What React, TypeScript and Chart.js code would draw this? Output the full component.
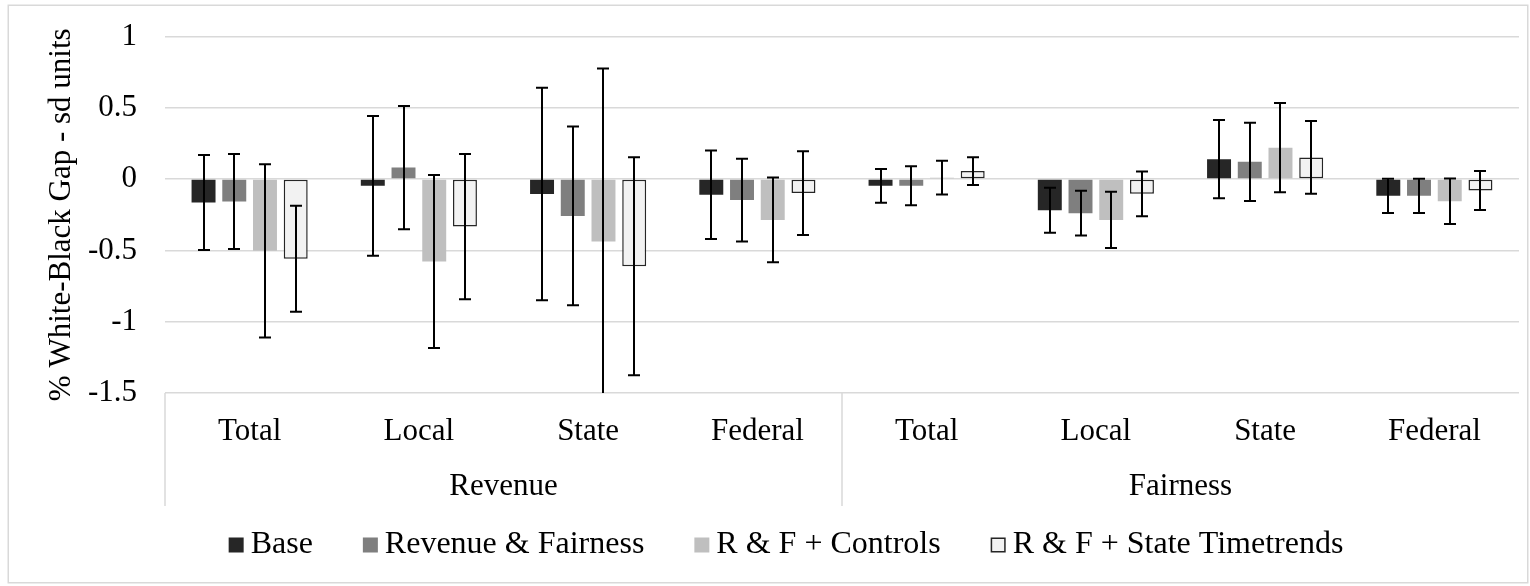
import React, { useEffect, useRef } from 'react';
import { Chart, registerables } from 'chart.js';

Chart.register(...registerables);

// ---------- data ----------
const categories = ['Total', 'Local', 'State', 'Federal', 'Total', 'Local', 'State', 'Federal'];
const groups = ['Revenue', 'Fairness'];
const groupSizes = [4, 4];
const seriesNames = ['Base', 'Revenue & Fairness', 'R & F + Controls', 'R & F + State Timetrends'];

const base = [-0.164, -0.047, -0.105, -0.11, -0.047, -0.218, 0.14, -0.117];
const baseErr = [0.333, 0.49, 0.745, 0.31, 0.118, 0.158, 0.275, 0.12];
const revFair = [-0.157, 0.081, -0.258, -0.147, -0.047, -0.239, 0.121, -0.117];
const revFairErr = [0.333, 0.432, 0.627, 0.29, 0.137, 0.157, 0.274, 0.12];
const controls = [-0.503, -0.578, -0.437, -0.286, 0.01, -0.286, 0.22, -0.155];
const controlsErr = [0.608, 0.607, 1.213, 0.297, 0.118, 0.197, 0.313, 0.16];
const timetrends = [-0.559, -0.333, -0.611, -0.098, 0.056, -0.103, 0.152, -0.08];
const timetrendsErr = [0.372, 0.509, 0.765, 0.294, 0.098, 0.157, 0.255, 0.137];

const yTicks = [1, 0.5, 0, -0.5, -1, -1.5];
const yTitle = '% White-Black Gap - sd units';

// ---------- style ----------
const FONT = '"Liberation Serif", "Times New Roman", serif';
const GRID = '#d9d9d9';

const errorBarPlugin = {
  id: 'errorBars',
  afterDatasetsDraw(chart: any) {
    const { ctx, chartArea, scales } = chart;
    const y = scales.y;
    ctx.save();
    ctx.beginPath();
    ctx.rect(chartArea.left, chartArea.top - 3, chartArea.right - chartArea.left, chartArea.bottom - chartArea.top + 3);
    ctx.clip();
    ctx.strokeStyle = '#000';
    ctx.lineWidth = 2;
    chart.data.datasets.forEach((ds: any, i: number) => {
      const meta = chart.getDatasetMeta(i);
      meta.data.forEach((bar: any, j: number) => {
        const v = ds.data[j];
        const e = ds.errors[j];
        const yt = y.getPixelForValue(v + e);
        const yb = y.getPixelForValue(v - e);
        const x = Math.round(bar.x);
        ctx.beginPath();
        ctx.moveTo(x, yt);
        ctx.lineTo(x, yb);
        ctx.moveTo(x - 6, yt);
        ctx.lineTo(x + 6, yt);
        ctx.moveTo(x - 6, yb);
        ctx.lineTo(x + 6, yb);
        ctx.stroke();
      });
    });
    ctx.restore();
  },
};

const decorPlugin = {
  id: 'decor',
  beforeDraw(chart: any) {
    const { ctx } = chart;
    ctx.save();
    ctx.fillStyle = '#fff';
    ctx.fillRect(0, 0, chart.width, chart.height);
    ctx.strokeStyle = GRID;
    ctx.lineWidth = 1.5;
    ctx.strokeRect(8.25, 5.25, 1519.5, 577.5);
    ctx.restore();
  },
  afterDraw(chart: any) {
    const { ctx, chartArea, scales } = chart;
    const x = scales.x;
    const axisBottom = 506;
    ctx.save();
    // group separators and group labels
    ctx.strokeStyle = GRID;
    ctx.lineWidth = 1.5;
    let idx = 0;
    const edges: number[] = [];
    groupSizes.forEach((n, g) => {
      const start = idx === 0 ? chartArea.left : (x.getPixelForValue(idx - 1) + x.getPixelForValue(idx)) / 2;
      const endIdx = idx + n;
      const end = endIdx >= categories.length ? chartArea.right : (x.getPixelForValue(endIdx - 1) + x.getPixelForValue(endIdx)) / 2;
      edges.push(start);
      ctx.fillStyle = '#000';
      ctx.font = `31px ${FONT}`;
      ctx.textAlign = 'center';
      ctx.textBaseline = 'middle';
      ctx.fillText(groups[g], (start + end) / 2, 487);
      idx = endIdx;
    });
    edges.forEach((ex) => {
      ctx.beginPath();
      ctx.moveTo(ex, chartArea.bottom);
      ctx.lineTo(ex, axisBottom);
      ctx.stroke();
    });

    // legend
    const datasets = chart.data.datasets;
    ctx.font = `32px ${FONT}`;
    const box = 15;
    const gapText = 7;
    const gapItem = 50;
    const widths = datasets.map((d: any) => ctx.measureText(d.label).width);
    const total = widths.reduce((a: number, w: number) => a + box + gapText + w, 0) + gapItem * (datasets.length - 1);
    let lx = 786 - total / 2;
    const ly = 545;
    datasets.forEach((d: any, i: number) => {
      ctx.fillStyle = d.backgroundColor;
      ctx.fillRect(lx, ly - box / 2, box, box);
      if (d.borderWidth) {
        ctx.strokeStyle = d.borderColor;
        ctx.lineWidth = 1.5;
        ctx.strokeRect(lx + 0.75, ly - box / 2 + 0.75, box - 1.5, box - 1.5);
      }
      ctx.fillStyle = '#000';
      ctx.textAlign = 'left';
      ctx.textBaseline = 'middle';
      ctx.fillText(d.label, lx + box + gapText, ly);
      lx += box + gapText + widths[i] + gapItem;
    });
    ctx.restore();
  },
};

export default function App() {
  const ref = useRef<HTMLCanvasElement>(null);
  useEffect(() => {
    document.body.style.margin = '0';
    const mk = (label: string, data: number[], errors: number[], color: string, border?: string) => ({
      label,
      data,
      errors,
      backgroundColor: color,
      borderColor: border || color,
      borderWidth: border ? 1.5 : 0,
      borderSkipped: false,
      categoryPercentage: 0.726,
      barPercentage: 0.78,
    });
    const chart = new Chart(ref.current as HTMLCanvasElement, {
      type: 'bar',
      data: {
        labels: categories,
        datasets: [
          mk(seriesNames[0], base, baseErr, '#262626'),
          mk(seriesNames[1], revFair, revFairErr, '#7f7f7f'),
          mk(seriesNames[2], controls, controlsErr, '#bfbfbf'),
          mk(seriesNames[3], timetrends, timetrendsErr, '#f2f2f2', '#262626'),
        ] as any,
      },
      options: {
        animation: false,
        responsive: false,
        layout: { padding: { top: 36.5, right: 11, left: 0, bottom: 0 } },
        plugins: {
          legend: { display: false },
          tooltip: { enabled: false },
        },
        scales: {
          x: {
            grid: { display: false, drawTicks: false },
            border: { display: false },
            ticks: {
              font: { family: FONT, size: 31 },
              color: '#000',
              padding: 20,
              maxRotation: 0,
              autoSkip: false,
            },
            afterFit(scale: any) {
              scale.height = 193;
              scale.paddingLeft = 0;
              scale.paddingRight = 0;
            },
          },
          y: {
            min: -1.5,
            max: 1,
            afterBuildTicks(scale: any) {
              scale.ticks = yTicks.map((v) => ({ value: v }));
            },
            ticks: {
              font: { family: FONT, size: 31 },
              color: '#000',
              padding: 28,
              callback: (v: any) => String(v),
            },
            grid: { color: GRID, lineWidth: 1.5, drawTicks: false },
            border: { display: false },
            title: {
              display: true,
              text: yTitle,
              font: { family: FONT, size: 31 },
              color: '#000',
              padding: { top: 43, bottom: 0 },
            },
            afterFit(scale: any) {
              scale.width = 165;
              scale.paddingTop = 0;
              scale.paddingBottom = 0;
            },
          },
        },
      } as any,
      plugins: [errorBarPlugin, decorPlugin],
    });
    return () => chart.destroy();
  }, []);
  return (
    <div style={{ width: 1530, height: 586 }}>
      <canvas ref={ref} width={1530} height={586} style={{ display: 'block' }} />
    </div>
  );
}
